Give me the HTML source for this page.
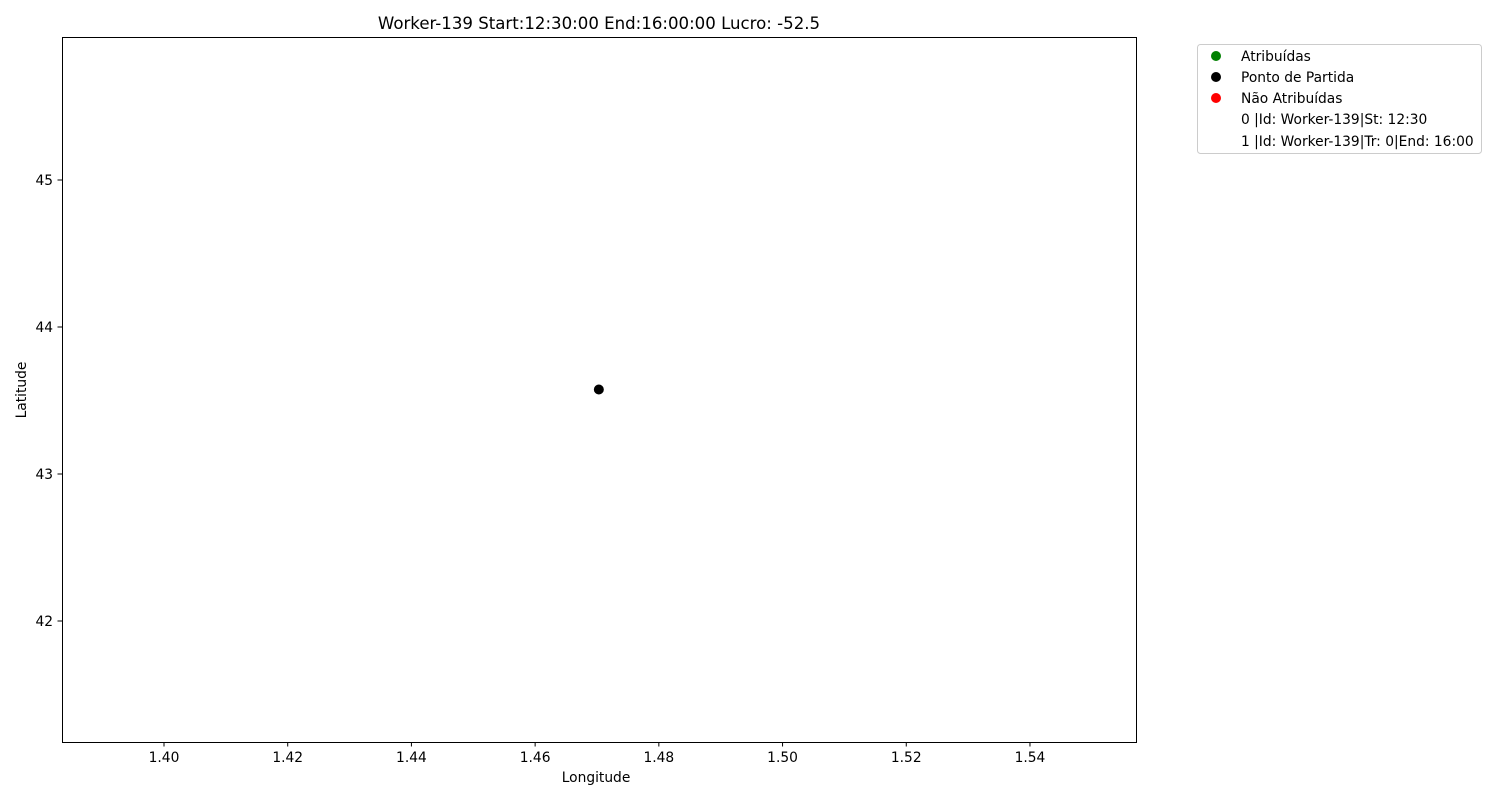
<!DOCTYPE html>
<html><head><meta charset="utf-8"><style>
body{margin:0;background:#fff}
svg{display:block;font-family:"DejaVu Sans","Liberation Sans",sans-serif}
</style></head><body>
<svg id="chart" width="1500" height="800">
<rect width="1500" height="800" fill="#fff"/>
<text x="599" y="29" font-size="16.6" text-anchor="middle">Worker-139 Start:12:30:00 End:16:00:00 Lucro: -52.5</text>
<g id="xt"></g><g id="yt"></g><g id="pts"></g>
<rect x="62.5" y="37.5" width="1074" height="705" fill="none" stroke="#000" stroke-width="1"/>
<text x="596" y="782" font-size="13.8" text-anchor="middle">Longitude</text>
<text x="26" y="390" font-size="13.8" text-anchor="middle" transform="rotate(-90 26 390)">Latitude</text>
<g>
<rect x="1197.5" y="44.5" width="284" height="109" rx="3" fill="#fff" stroke="#ccc"/>
<circle cx="1216" cy="56" r="5" fill="#008000"/>
<text x="1241" y="61" font-size="13.8">Atribuídas</text>
<circle cx="1216" cy="77" r="5" fill="#000"/>
<text x="1241" y="82" font-size="13.8">Ponto de Partida</text>
<circle cx="1216" cy="98" r="5" fill="#f00"/>
<text x="1241" y="103" font-size="13.8">Não Atribuídas</text>
<text x="1241" y="124" font-size="13.8">0 |Id: Worker-139|St: 12:30</text>
<text x="1241" y="146" font-size="13.8">1 |Id: Worker-139|Tr: 0|End: 16:00</text>
</g>
</svg>
<script>
const xTicks=[1.40,1.42,1.44,1.46,1.48,1.50,1.52,1.54];
const yTicks=[42,43,44,45];
const pointLon=[1.4703];
const pointLat=[43.575];
const NS="http://www.w3.org/2000/svg";
function xs(v){return 164+(v-1.40)/0.02*123.71;}
function ys(v){return 180+(45-v)*147;}
function mk(t,a,p){const e=document.createElementNS(NS,t);for(const k in a)e.setAttribute(k,a[k]);p.appendChild(e);return e;}
const xt=document.getElementById('xt'),yt=document.getElementById('yt'),pts=document.getElementById('pts');
xTicks.forEach(v=>{const x=xs(v);
const l=mk('line',{x1:x,x2:x,y1:742,y2:746.5,stroke:'#000'},xt);


const t=mk('text',{x:x,y:762,'font-size':13.8,'text-anchor':'middle'},xt);t.textContent=v.toFixed(2);

});
yTicks.forEach(v=>{const y=ys(v);
const l=mk('line',{x1:57.5,x2:62,y1:y,y2:y,stroke:'#000'},yt);


const t=mk('text',{x:53,y:y+5,'font-size':13.8,'text-anchor':'end'},yt);t.textContent=String(v);

});
pointLon.forEach((v,i)=>{const c=mk('circle',{cx:xs(v),cy:ys(pointLat[i]),r:5,fill:'#000'},pts);

});
</script>
</body></html>
